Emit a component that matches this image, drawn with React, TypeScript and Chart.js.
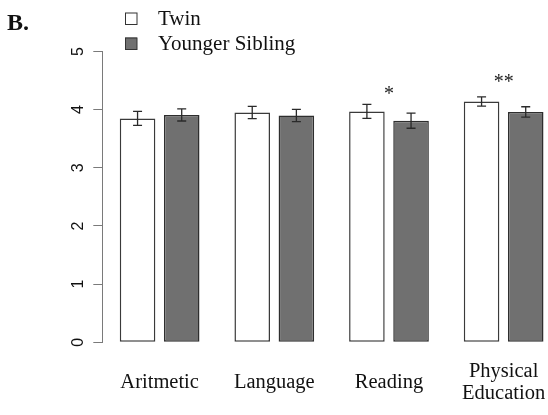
import React, { useEffect, useRef } from "react";
import { Chart, registerables } from "chart.js";

Chart.register(...registerables);

// ---- data ----
const categories: string[][] = [["Aritmetic"], ["Language"], ["Reading"], ["Physical", "Education"]];
const seriesNames = ["Twin", "Younger Sibling"];
const twinMeans = [3.85, 3.95, 3.97, 4.14];
const siblingMeans = [3.91, 3.9, 3.81, 3.96];
const twinErr = [0.12, 0.105, 0.12, 0.08];
const siblingErr = [0.105, 0.105, 0.13, 0.09];
const sigMarks = ["", "", "*", "**"];
const sigLevels = [0, 0, 4.17, 4.37];
const yTicks = [0, 1, 2, 3, 4, 5];
const panelLabel = "B.";

const means = [twinMeans, siblingMeans];
const errs = [twinErr, siblingErr];

const decorations = {
  id: "decorations",
  afterDatasetsDraw(chart: any) {
    const ctx = chart.ctx as CanvasRenderingContext2D;
    const xs = chart.scales.x;
    const ys = chart.scales.y;
    ctx.save();
    // error bars
    ctx.strokeStyle = "#2a2a2a";
    ctx.lineWidth = 1.3;
    chart.data.datasets.forEach((_ds: any, di: number) => {
      const meta = chart.getDatasetMeta(di);
      meta.data.forEach((bar: any, i: number) => {
        const cx = bar.x;
        const top = ys.getPixelForValue(means[di][i] + errs[di][i]);
        const bot = ys.getPixelForValue(means[di][i] - errs[di][i]);
        ctx.beginPath();
        ctx.moveTo(cx, top);
        ctx.lineTo(cx, bot);
        ctx.moveTo(cx - 4.5, top);
        ctx.lineTo(cx + 4.5, top);
        ctx.moveTo(cx - 4.5, bot);
        ctx.lineTo(cx + 4.5, bot);
        ctx.stroke();
      });
    });
    // significance marks
    ctx.fillStyle = "#222";
    ctx.font = '20px "Liberation Serif"';
    ctx.textAlign = "center";
    ctx.textBaseline = "alphabetic";
    sigMarks.forEach((m, i) => {
      if (!m) return;
      ctx.fillText(m, xs.getPixelForValue(i + 0.5), ys.getPixelForValue(sigLevels[i]));
    });
    // panel label
    ctx.textAlign = "left";
    ctx.fillStyle = "#111";
    ctx.font = 'bold 24px "Liberation Serif"';
    ctx.fillText(panelLabel, 7, 29.5);
    // legend
    ctx.font = '21px "Liberation Serif"';
    ctx.textBaseline = "middle";
    chart.data.datasets.forEach((ds: any, di: number) => {
      const by = 12.5 + di * 25;
      ctx.fillStyle = ds.backgroundColor;
      ctx.fillRect(125, by, 12, 12);
      ctx.strokeStyle = "#333";
      ctx.lineWidth = 1;
      ctx.strokeRect(125.5, by + 0.5, 11.5, 11.5);
      ctx.fillStyle = "#111";
      ctx.fillText(ds.label, 158, by + 6.5);
    });
    ctx.restore();
  },
};

export default function App() {
  const ref = useRef<HTMLCanvasElement | null>(null);
  useEffect(() => {
    if (!ref.current) return;
    const chart = new Chart(ref.current, {
      type: "bar",
      data: {
        datasets: [
          {
            label: seriesNames[0],
            data: twinMeans.map((v, i) => ({ x: i + 0.5, y: v })),
            backgroundColor: "#ffffff",
            borderColor: "#3a3a3a",
            borderWidth: 1.5,
            borderSkipped: false,
            categoryPercentage: 0.77,
            barPercentage: 0.806,
          },
          {
            label: seriesNames[1],
            data: siblingMeans.map((v, i) => ({ x: i + 0.5, y: v })),
            backgroundColor: "#707070",
            borderColor: "#2e2e2e",
            borderWidth: 1.5,
            borderSkipped: false,
            categoryPercentage: 0.77,
            barPercentage: 0.806,
          },
        ],
      } as any,
      options: {
        animation: false,
        responsive: false,
        devicePixelRatio: 1,
        layout: { padding: { top: 51.5, left: 0, right: 0, bottom: 0 } },
        plugins: { legend: { display: false }, tooltip: { enabled: false }, title: { display: false } },
        scales: {
          x: {
            type: "linear",
            min: 0,
            max: 3.8868,
            offset: false,
            grid: { display: false, drawTicks: false, offset: false },
            border: { display: false },
            afterBuildTicks: (s: any) => {
              s.ticks = categories.map((_c, i) => ({ value: i + 0.5 }));
            },
            ticks: {
              autoSkip: false,
              minRotation: 0,
              maxRotation: 0,
              crossAlign: "center",
              padding: 29.5,
              color: "#111",
              font: { family: "Liberation Serif", size: 20.5, lineHeight: 1.05 },
              callback: (_v: any, i: number) => categories[i],
            },
            afterFit: (s: any) => {
              s.height = 415 - 342.3;
              s.paddingLeft = 0;
              s.paddingRight = 0;
            },
          },
          y: {
            min: 0,
            max: 5,
            afterBuildTicks: (s: any) => {
              s.ticks = yTicks.map((v) => ({ value: v }));
            },
            grid: { display: true, drawOnChartArea: false, drawTicks: true, tickLength: 9, color: "#7a7a7a", lineWidth: 1 },
            border: { display: true, color: "#7a7a7a", width: 1 },
            ticks: {
              minRotation: 90,
              maxRotation: 90,
              crossAlign: "center",
              padding: 10,
              color: "#111",
              font: { family: "Liberation Sans", size: 16 },
              callback: (v: any) => String(v),
            },
            afterFit: (s: any) => {
              s.width = 102.3;
              s.paddingTop = 0;
              s.paddingBottom = 0;
            },
          },
        },
      } as any,
      plugins: [decorations],
    });
    return () => chart.destroy();
  }, []);
  return (
    <div style={{ position: "absolute", left: 0, top: 0, width: 548, height: 415, background: "#fff" }}>
      <canvas ref={ref} width={548} height={415} style={{ display: "block" }} />
    </div>
  );
}
